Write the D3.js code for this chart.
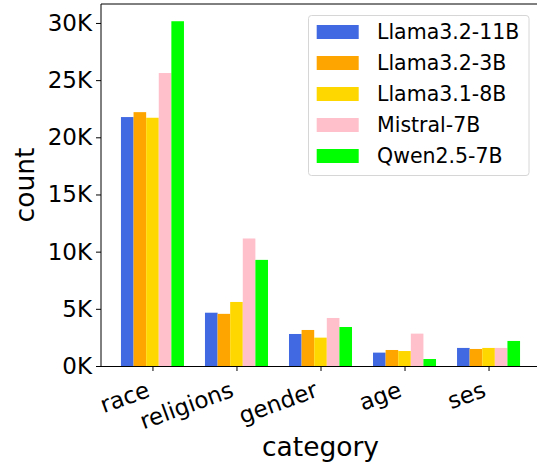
<!DOCTYPE html>
<html>
<head>
<meta charset="utf-8">
<script src="https://cdn.jsdelivr.net/npm/d3@7"></script>
<style>
  html, body { margin: 0; padding: 0; background: #fff; }
  svg { display: block; }
  text { font-family: "DejaVu Sans", sans-serif; fill: #000; }
</style>
</head>
<body>
<svg id="chart" width="537" height="468"></svg>
<script>
const categories = ["race", "religions", "gender", "age", "ses"];
const seriesNames = ["Llama3.2-11B", "Llama3.2-3B", "Llama3.1-8B", "Mistral-7B", "Qwen2.5-7B"];
const seriesColors = ["#4169e1", "#ffa500", "#ffd700", "#ffc0cb", "#00ff00"];
const llama32_11b = [21770, 4660, 2800, 1170, 1580];
const llama32_3b  = [22200, 4560, 3150, 1400, 1490];
const llama31_8b  = [21710, 5600, 2480, 1310, 1580];
const mistral_7b  = [25620, 11150, 4200, 2830, 1580];
const qwen25_7b   = [30150, 9280, 3410, 610, 2190];
const seriesValues = [llama32_11b, llama32_3b, llama31_8b, mistral_7b, qwen25_7b];
const yTicks = [0, 5000, 10000, 15000, 20000, 25000, 30000];

const svg = d3.select("#chart");
const pL = 101, pR = 540, pT = 4, pB = 366;
const barW = 0.15;
const nS = seriesNames.length;
const x = d3.scaleLinear()
  .domain([-(nS * barW) / 2 - 0.2375, categories.length - 1 + (nS * barW) / 2 + 0.2375])
  .range([pL, pR]);
const yMax = d3.max(seriesValues.flat()) * 1.05;
const y = d3.scaleLinear().domain([0, yMax]).range([pB, pT]);

// bars
seriesValues.forEach((vals, si) => {
  svg.append("g").selectAll("rect").data(vals).join("rect")
    .attr("x", (d, i) => x(i + (si - (nS - 1) / 2) * barW - barW / 2))
    .attr("width", (d, i) => x(i + barW) - x(i))
    .attr("y", d => y(d))
    .attr("height", d => y(0) - y(d))
    .attr("fill", seriesColors[si]);
});

// spines
svg.append("line").attr("x1", pL).attr("x2", pL).attr("y1", pT).attr("y2", pB)
  .attr("stroke", "#000").attr("stroke-width", 1);
svg.append("line").attr("x1", pL).attr("x2", pR).attr("y1", pT).attr("y2", pT)
  .attr("stroke", "#000").attr("stroke-width", 1);
svg.append("line").attr("x1", pR).attr("x2", pR).attr("y1", pT).attr("y2", pB)
  .attr("stroke", "#000").attr("stroke-width", 1);

// y axis
const yAxis = d3.axisLeft(y).tickValues(yTicks).tickSize(5).tickPadding(4)
  .tickFormat(d => (d / 1000) + "K");
const gy = svg.append("g").attr("transform", `translate(${pL},0)`).call(yAxis);
gy.select(".domain").remove();
gy.selectAll("text").attr("font-size", 23).attr("font-family", "DejaVu Sans").attr("fill", "#000");
gy.selectAll("line").attr("stroke", "#000");

// x axis
const xAxis = d3.axisBottom(x).tickValues(d3.range(categories.length)).tickSize(5)
  .tickFormat(i => categories[i]);
const gx = svg.append("g").attr("transform", `translate(0,${pB})`).call(xAxis);
gx.select(".domain").attr("d", `M${pL},0.5H${pR}`).attr("stroke", "#000");
gx.selectAll("line").attr("stroke", "#000");
const fsx = 23;
gx.selectAll(".tick text")
  .attr("font-size", fsx).attr("font-family", "DejaVu Sans").attr("fill", "#000")
  .attr("text-anchor", "end").attr("y", 0).attr("dy", 0)
  .attr("transform", `translate(${-0.342 * 0.24 * fsx},${10 + 0.94 * 0.93 * fsx}) rotate(-20)`);

// axis labels
svg.append("text").attr("x", (pL + pR) / 2).attr("y", 456)
  .attr("text-anchor", "middle").attr("font-size", 26.5).text("category");
svg.append("text")
  .attr("transform", `translate(34,${(pT + pB) / 2}) rotate(-90)`)
  .attr("text-anchor", "middle").attr("font-size", 26.5).text("count");

// legend
const lg = svg.append("g");
lg.append("rect").attr("x", 308.5).attr("y", 15.5).attr("width", 220.5).attr("height", 160)
  .attr("rx", 3).attr("fill", "#fff").attr("fill-opacity", 0.8)
  .attr("stroke", "#d6d6d6").attr("stroke-width", 1);
seriesNames.forEach((name, i) => {
  const cy = 32 + i * 31;
  lg.append("rect").attr("x", 316.7).attr("y", cy - 7).attr("width", 42).attr("height", 14)
    .attr("fill", seriesColors[i]);
  lg.append("text").attr("x", 377).attr("y", cy).attr("dy", "0.36em")
    .attr("font-size", 20.5).text(name);
});
</script>
</body>
</html>
